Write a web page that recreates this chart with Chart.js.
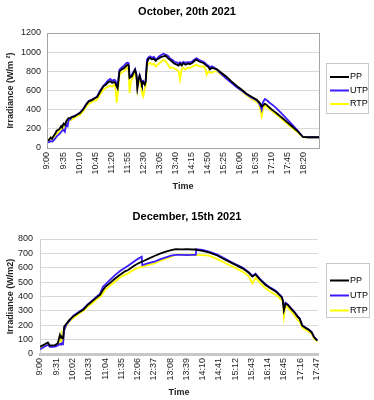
<!DOCTYPE html>
<html>
<head>
<meta charset="utf-8">
<script src="https://cdn.jsdelivr.net/npm/chart.js@4.4.1/dist/chart.umd.min.js"></script>
<style>
  body { margin: 0; background: #fff; }
  .box { position: absolute; left: 0; width: 374px; height: 200px; }
</style>
</head>
<body>
<div class="box" style="top:0"><canvas id="octChart" width="374" height="200"></canvas></div>
<div class="box" style="top:200px"><canvas id="decChart" width="374" height="200"></canvas></div>
<script>
// October, 20th 2021
const octTicks = ['9:00','9:35','10:10','10:45','11:20','11:55','12:30','13:05','13:40','14:15','14:50','15:25','16:00','16:35','17:10','17:45','18:20'];
const octTime = ['9:00','9:04','9:08','9:11','9:14','9:18','9:21','9:25','9:28','9:31','9:33','9:36','9:39','9:42','9:45','9:47','9:51','9:54',
  '10:00','10:06','10:12','10:20','10:25','10:31','10:38','10:44','10:49','10:56','11:03','11:08','11:13','11:18','11:22','11:26','11:29','11:32','11:34','11:38',
  '11:43','11:48','11:53','11:56','11:58','12:00','12:03','12:05','12:09','12:12','12:15','12:17','12:20','12:22','12:25','12:27','12:30','12:33','12:35','12:38',
  '12:41','12:45','12:49','12:53','12:57','12:59','13:04','13:09','13:14','13:18','13:21','13:25','13:28','13:33','13:38','13:43','13:47','13:50','13:54','13:57',
  '14:02','14:07','14:12','14:17','14:22','14:26','14:31','14:36','14:41','14:45','14:48','14:52','14:55','14:59','15:04','15:10','15:20','15:32','15:42','15:53',
  '16:04','16:15','16:26','16:37','16:42','16:46','16:48','16:51','16:55','17:00','17:06','17:13','17:20','17:35','17:50','18:05','18:18','18:30','18:53'];
const octPP = [85,80,110,95,122,150,180,190,205,230,215,254,240,280,300,313,315,323,
  330,350,365,410,450,487,500,520,532,590,643,660,685,696,680,690,678,640,620,800,
  820,835,859,870,860,730,740,748,790,817,760,626,720,755,700,661,685,660,689,887,
  930,939,925,930,910,922,935,950,956,965,950,930,922,900,880,870,860,880,860,887,
  870,880,876,890,910,922,905,895,887,870,859,845,820,835,830,824,785,741,695,650,
  610,567,535,504,480,460,435,440,463,445,417,390,365,305,243,180,115,112,112];
const octUTP = [60,62,70,68,75,100,120,139,150,170,180,191,170,250,230,289,300,323,
  335,350,370,415,455,490,505,522,535,600,650,675,705,720,700,712,706,660,650,817,
  840,860,887,890,885,745,755,765,800,824,770,640,730,760,710,670,695,670,695,922,
  945,956,940,950,925,928,955,970,984,975,970,955,935,920,900,894,880,895,880,900,
  890,895,893,905,925,935,920,910,900,885,870,860,840,852,840,817,770,720,680,636,
  600,560,525,500,470,430,400,480,511,495,470,445,417,343,268,190,115,112,112];
const octRTP = [85,90,100,110,115,120,150,163,190,200,185,219,230,255,270,278,290,296,
  315,335,348,390,430,463,480,495,504,560,609,625,640,650,640,660,636,470,560,765,
  790,800,835,840,800,574,690,713,760,783,720,609,700,713,650,574,539,620,636,852,
  880,887,870,880,850,859,880,900,922,910,890,860,835,840,830,817,800,713,830,835,
  820,840,835,850,860,870,855,850,852,830,765,800,790,783,800,800,765,727,690,640,
  595,550,515,476,460,380,330,400,442,425,400,375,348,288,226,170,110,110,110];

// December, 15th 2021
const decTicks = ['9:00','9:31','10:02','10:33','11:04','11:35','12:06','12:37','13:08','13:39','14:10','14:41','15:12','15:43','16:14','16:45','17:16','17:47'];
const decTime = ['9:00','9:06','9:10','9:15','9:19','9:23','9:29','9:34','9:38','9:40','9:41','9:43','9:44','9:46','9:51','9:56',
  '10:03','10:12','10:23','10:31','10:42','10:50','10:54','11:00','11:04','11:12','11:22','11:32','11:42','11:48','11:58','12:06','12:14','12:15','12:25','12:38','12:50',
  '13:00','13:10','13:19','13:30','13:40','13:50','13:57','13:58','14:10','14:22','14:38','14:54','15:10','15:26','15:38','15:45','15:51',
  '16:00','16:10','16:20','16:30','16:41','16:43','16:45','16:48','16:53','16:58','17:05','17:11','17:15','17:20','17:27','17:33','17:38','17:42','17:47','17:49'];
const decPP = [50,62,70,80,58,60,62,75,133,115,121,110,109,190,214,237,
  260,283,310,341,375,399,410,445,465,490,522,550,575,584,610,628,642,642,660,682,700,
  712,723,730,728,730,727,728,725,718,707,685,654,625,596,565,538,554,
  515,480,455,434,394,370,306,352,340,318,290,260,245,197,180,167,150,120,100,97];
const decUTP = [33,45,55,63,50,50,52,60,70,65,74,68,67,165,209,230,
  265,287,315,345,380,405,415,468,481,510,545,575,600,614,640,660,677,619,630,642,660,
  672,684,690,690,688,690,690,728,724,713,691,660,630,601,570,543,559,
  520,485,460,438,398,374,310,356,343,321,293,263,248,200,182,169,152,122,99,95];
const decRTP = [45,55,62,72,56,57,58,70,98,130,60,125,70,160,202,225,
  249,275,300,330,360,388,395,421,447,470,501,530,552,561,585,598,607,607,618,631,650,
  664,677,692,692,690,692,690,689,688,684,660,631,603,573,540,492,531,
  492,457,432,410,375,350,260,336,320,300,270,237,225,183,168,155,140,109,92,90];

const seriesNames = ['PP', 'UTP', 'RTP'];
const seriesColors = ['#000000', '#3a1cff', '#ffff00'];

Chart.defaults.font.family = 'Arial, "Liberation Sans", sans-serif';
Chart.defaults.color = '#222';

function toMin(t) {
  const p = t.split(':');
  return (parseInt(p[0]) - 9) * 60 + parseInt(p[1]);
}

function pointsOf(times, vals) {
  return times.map((t, i) => ({ x: toMin(t), y: vals[i] }));
}

// legend drawn as a framed box on the right
const boxLegend = {
  id: 'boxLegend',
  afterDraw(chart, args, o) {
    const ctx = chart.ctx;
    ctx.save();
    ctx.fillStyle = '#fff';
    ctx.fillRect(o.x, o.y, o.w, o.h);
    ctx.strokeStyle = '#c8c8c8';
    ctx.lineWidth = 1;
    ctx.strokeRect(o.x + 0.5, o.y + 0.5, o.w, o.h);
    ctx.font = '9px Arial, "Liberation Sans", sans-serif';
    ctx.textBaseline = 'middle';
    chart.data.datasets.forEach((ds, i) => {
      const y = o.y + o.first + i * o.gap;
      ctx.strokeStyle = ds.borderColor;
      ctx.lineWidth = 2;
      ctx.beginPath();
      ctx.moveTo(o.x + 4, y);
      ctx.lineTo(o.x + 23, y);
      ctx.stroke();
      ctx.fillStyle = '#000';
      ctx.fillText(ds.label, o.x + 24, y);
    });
    ctx.restore();
  }
};

const plotFrame = {
  id: 'plotFrame',
  afterDraw(chart, args, o) {
    if (!o.show) return;
    const a = chart.chartArea;
    const ctx = chart.ctx;
    ctx.save();
    ctx.strokeStyle = '#a6a6a6';
    ctx.lineWidth = 1;
    ctx.strokeRect(Math.round(a.left) + 0.5, Math.round(a.top) + 0.5, Math.round(a.right - a.left), Math.round(a.bottom - a.top));
    ctx.restore();
  }
};

function makeChart(id, cfg) {
  const datasets = [cfg.pp, cfg.utp, cfg.rtp].map((vals, i) => ({
    label: seriesNames[i],
    data: pointsOf(cfg.times, vals),
    borderColor: seriesColors[i],
    backgroundColor: seriesColors[i],
    borderWidth: 1.8,
    pointRadius: 0,
    tension: 0,
    fill: false
  }));

  return new Chart(document.getElementById(id), {
    type: 'line',
    data: { datasets: datasets },
    plugins: [boxLegend, plotFrame],
    options: {
      responsive: false,
      animation: false,
      devicePixelRatio: 1,
      layout: { padding: 0 },
      plugins: {
        legend: { display: false },
        tooltip: { enabled: false },
        title: {
          display: true,
          text: cfg.title,
          color: '#000',
          font: { size: 11, weight: 'bold' },
          padding: { top: cfg.titleTop, bottom: cfg.top - cfg.titleTop - 13.2 }
        },
        boxLegend: cfg.legend,
        plotFrame: { show: cfg.frame }
      },
      scales: {
        x: {
          type: 'linear',
          min: 0,
          max: cfg.xMax,
          afterBuildTicks: s => { s.ticks = cfg.ticks.map(t => ({ value: toMin(t) })); },
          afterFit: s => { s.height = 200 - cfg.bottom; },
          grid: { display: false, drawTicks: false },
          border: { display: true, color: cfg.xBorderColor, width: cfg.xBorderWidth },
          ticks: {
            autoSkip: false,
            maxRotation: 90,
            minRotation: 90,
            padding: 4,
            color: '#222',
            font: { size: 9 },
            callback: v => {
              const i = cfg.ticks.findIndex(t => toMin(t) === v);
              return i >= 0 ? cfg.ticks[i] : '';
            }
          },
          title: {
            display: true,
            text: 'Time',
            color: '#222',
            font: { size: 9, weight: 'bold' },
            padding: { top: 0, bottom: cfg.timePad }
          }
        },
        y: {
          min: 0,
          max: cfg.yMax,
          afterFit: s => { s.width = cfg.left; },
          grid: { color: '#d9d9d9', drawTicks: false },
          border: { display: true, color: cfg.yBorderColor },
          ticks: {
            stepSize: cfg.yStep,
            padding: cfg.yPad,
            color: '#222',
            font: { size: 9 },
            callback: v => String(v)
          },
          title: {
            display: true,
            text: cfg.yTitle,
            color: '#222',
            font: { size: 9, weight: 'bold' },
            padding: { top: 5, bottom: 0 }
          }
        },
        // empty right-hand box that keeps room for the legend
        side: {
          position: 'right',
          min: 0,
          max: 1,
          afterFit: s => { s.width = 374 - cfg.right; },
          grid: { display: false, drawTicks: false },
          border: { display: false },
          ticks: { display: false }
        }
      }
    }
  });
}

makeChart('octChart', {
  title: 'October, 20th 2021',
  yTitle: 'Irradiance (W/m \u00B2)',
  times: octTime, pp: octPP, utp: octUTP, rtp: octRTP,
  ticks: octTicks,
  xMax: 593, yMax: 1200, yStep: 200,
  left: 47, right: 319, top: 33, bottom: 148,
  titleTop: 5, timePad: 8, yPad: 6,
  frame: true,
  xBorderColor: '#a6a6a6', xBorderWidth: 1, yBorderColor: '#a6a6a6',
  legend: { x: 326, y: 63, w: 42, h: 50, first: 14, gap: 13.5 }
});

makeChart('decChart', {
  title: 'December, 15th 2021',
  yTitle: 'Irradiance (W/m2)',
  times: decTime, pp: decPP, utp: decUTP, rtp: decRTP,
  ticks: decTicks,
  xMax: 530, yMax: 800, yStep: 100,
  left: 40, right: 318, top: 39, bottom: 154,
  titleTop: 10, timePad: 2, yPad: 7,
  frame: false,
  xBorderColor: '#c8c8c8', xBorderWidth: 3, yBorderColor: '#cfcfcf',
  legend: { x: 326, y: 63, w: 43, h: 54, first: 17.5, gap: 15 }
});
</script>
</body>
</html>
